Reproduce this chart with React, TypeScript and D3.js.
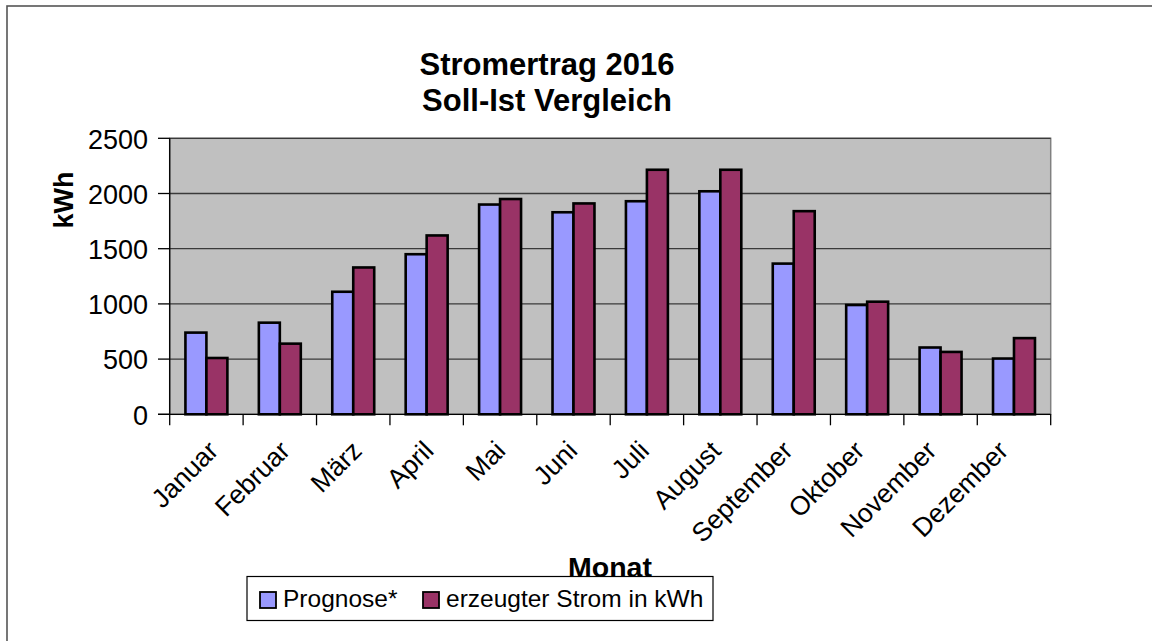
import React from 'react';
import * as d3 from 'd3';

const months = ['Januar', 'Februar', 'März', 'April', 'Mai', 'Juni', 'Juli', 'August', 'September', 'Oktober', 'November', 'Dezember'];
const prognose = [740, 830, 1110, 1450, 1900, 1830, 1930, 2020, 1365, 990, 605, 505];
const erzeugt = [510, 640, 1330, 1620, 1950, 1910, 2215, 2215, 1840, 1020, 565, 690];
const yTicks = [0, 500, 1000, 1500, 2000, 2500];
const seriesNames = ['Prognose*', 'erzeugter Strom in kWh'];
const seriesColors = ['#9999FF', '#993366'];

const FONT = '"Liberation Sans", Arial, sans-serif';

export default function App() {
  const W = 1152, H = 641;
  const left = 169.7, right = 1050.7, top = 138.3, bottom = 414.3;

  const x = d3.scaleBand().domain(months).range([left, right]).padding(0);
  const xSub = d3.scaleBand().domain(['p', 'e']).range([0, x.bandwidth()]).paddingInner(0).paddingOuter(0.75);
  const y = d3.scaleLinear().domain([0, 2500]).range([bottom, top]);
  // labels in the original drift slightly left of the category centres
  const xLabel = d3.scalePoint().domain(months).range([206.4, 996.4]);

  const rows = months.map((m, i) => ({ m, p: prognose[i], e: erzeugt[i] }));

  return (
    <svg width={W} height={H} style={{ position: 'absolute', left: 0, top: 0, display: 'block' }} fontFamily={FONT}>
      <rect x={0} y={0} width={W} height={H} fill="#fff" />
      <rect x={7} y={6} width={1300} height={800} fill="none" stroke="#555" strokeWidth={1.6} />

      {/* title */}
      <text x={547} y={75} textAnchor="middle" fontSize={31} fontWeight="bold">Stromertrag 2016</text>
      <text x={547} y={111} textAnchor="middle" fontSize={31} fontWeight="bold">Soll-Ist Vergleich</text>

      {/* plot area */}
      <rect x={left} y={top} width={right - left} height={bottom - top} fill="#C0C0C0" stroke="#808080" strokeWidth={1.5} />
      {yTicks.filter(t => t > 0).map(t => (
        <line key={t} x1={left} x2={right} y1={y(t)} y2={y(t)} stroke="#3a3a3a" strokeWidth={1.3} />
      ))}

      {/* bars */}
      {rows.map(r => (
        <g key={r.m} transform={`translate(${x(r.m)},0)`}>
          <rect x={xSub('p')} y={y(r.p)} width={xSub.bandwidth()} height={y(0) - y(r.p)}
            fill={seriesColors[0]} stroke="#000" strokeWidth={2.6} />
          <rect x={xSub('e')} y={y(r.e)} width={xSub.bandwidth()} height={y(0) - y(r.e)}
            fill={seriesColors[1]} stroke="#000" strokeWidth={2.6} />
        </g>
      ))}

      {/* y axis */}
      <line x1={left} x2={left} y1={top} y2={bottom} stroke="#000" strokeWidth={1.3} />
      {yTicks.map(t => (
        <g key={t}>
          <line x1={158} x2={left} y1={y(t)} y2={y(t)} stroke="#000" strokeWidth={1.3} />
          <text x={148} y={y(t)} dy="0.38em" textAnchor="end" fontSize={27}>{t}</text>
        </g>
      ))}
      <text transform="translate(73,200) rotate(-90)" textAnchor="middle" fontSize={27} fontWeight="bold">kWh</text>

      {/* x axis */}
      <line x1={158} x2={right} y1={bottom} y2={bottom} stroke="#000" strokeWidth={1.3} />
      {[...months.map(m => x(m)), right].map((v, i) => (
        <line key={i} x1={v} x2={v} y1={bottom} y2={bottom + 11} stroke="#000" strokeWidth={1.3} />
      ))}
      {months.map(m => (
        <text key={m} transform={`translate(${xLabel(m)},439) rotate(-45)`} dy="0.71em" textAnchor="end" fontSize={26.5}>{m}</text>
      ))}

      <text x={610} y={577} textAnchor="middle" fontSize={28.5} fontWeight="bold">Monat</text>

      {/* legend */}
      <rect x={247} y={576.5} width={466} height={44} fill="#fff" stroke="#000" strokeWidth={1.2} />
      {seriesNames.map((s, i) => {
        const lx = i === 0 ? 260 : 423;
        return (
          <g key={s}>
            <rect x={lx} y={592} width={16} height={16} fill={seriesColors[i]} stroke="#000" strokeWidth={1.8} />
            <text x={lx + 23} y={607} fontSize={24.5}>{s}</text>
          </g>
        );
      })}
    </svg>
  );
}
